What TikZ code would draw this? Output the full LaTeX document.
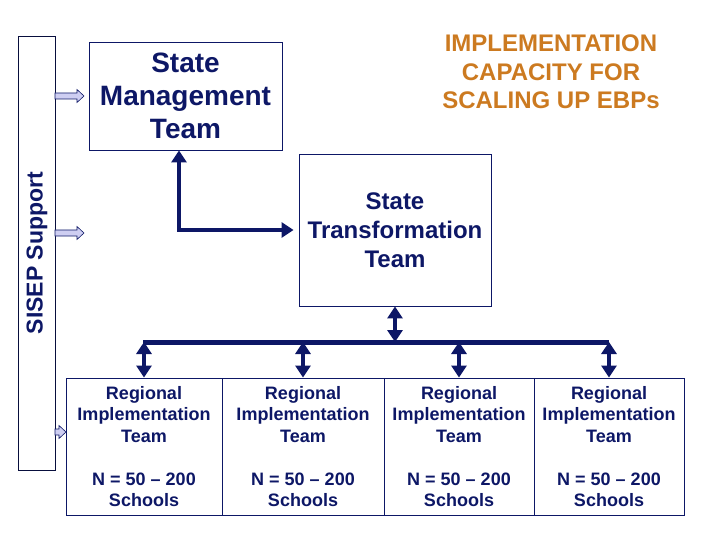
\documentclass[tikz,border=0pt]{standalone}
\usepackage{fontspec}
\setmainfont{Liberation Sans}
\usetikzlibrary{arrows.meta}
\definecolor{navy}{RGB}{13,23,102}
\definecolor{ttl}{RGB}{204,122,32}
\definecolor{lav}{RGB}{206,206,242}
\tikzset{
  box/.style={draw=navy, line width=0.9pt, text=navy, align=center, inner sep=0pt},
  cell/.style={box, minimum width=#1, minimum height=137pt,
    font=\bfseries\fontsize{18}{21.5}\selectfont},
  bigarrow/.style={navy, line width=4.5pt,
    arrows={Triangle[length=12pt,width=15pt]-Triangle[length=12pt,width=15pt]}},
  onearrow/.style={navy, line width=4.5pt, arrows={-Triangle[length=12pt,width=15pt]}},
  lavarrow/.style={fill=lav, draw=navy, line width=0.6pt, line join=miter},
}
\newcommand\lavarr[3]{% y, x0, x1
  \filldraw[lavarrow] (#2,#1-3) -- (#3-7,#1-3) -- (#3-7,#1-6.5) -- (#3,#1)
    -- (#3-7,#1+6.5) -- (#3-7,#1+3) -- (#2,#1+3) -- cycle;}
\begin{document}
\begin{tikzpicture}[x=1pt,y=-1pt]
\useasboundingbox (0,0) rectangle (720,540);
% SISEP support column
\node[draw=navy!60!black, line width=0.9pt, minimum width=37pt, minimum height=434pt, inner sep=0pt] (sisep) at (36.5,253) {};
\node[rotate=90, text=navy, font=\bfseries\fontsize{23}{27}\selectfont] (sisepT) at (37,253) {SISEP Support};
% boxes
\node[box, minimum width=193pt, minimum height=108pt, font=\bfseries\fontsize{28}{33}\selectfont] (smt) at (185.5,96) {State\\Management\\Team};
\node[align=center, text=ttl, font=\bfseries\fontsize{24}{28.5}\selectfont] (title) at (551,72) {IMPLEMENTATION\\CAPACITY FOR\\SCALING UP EBPs};
\node[box, minimum width=192pt, minimum height=152pt, font=\bfseries\fontsize{24}{29}\selectfont] (stt) at (395,230) {State\\Transformation\\Team};
% regional cells
\node[cell=156pt] (c1) at (144,446.5) {Regional\\Implementation\\Team\\[21.5pt]N = 50 – 200\\Schools};
\node[cell=162pt] (c2) at (303,446.5) {Regional\\Implementation\\Team\\[21.5pt]N = 50 – 200\\Schools};
\node[cell=150pt] (c3) at (459,446.5) {Regional\\Implementation\\Team\\[21.5pt]N = 50 – 200\\Schools};
\node[cell=150pt] (c4) at (609,446.5) {Regional\\Implementation\\Team\\[21.5pt]N = 50 – 200\\Schools};
% lavender support arrows
\lavarr{96}{55}{84}
\lavarr{233}{55}{84}
\lavarr{432}{55}{66}
% L arrow between SMT and STT
\coordinate (corner) at (179,230);
\draw[bigarrow] (smt.south -| corner) |- ([xshift=-5pt]stt.west);
% bus
\coordinate (busL) at (143,342);
\coordinate (busR) at (609,342);
\draw[navy, line width=5pt] (busL) -- (busR);
\draw[bigarrow] (stt.south) -- (stt.south |- busL);
\draw[bigarrow] (c1.north |- busL) -- (c1.north);
\draw[bigarrow] (c2.north |- busL) -- (c2.north);
\draw[bigarrow] (c3.north |- busL) -- (c3.north);
\draw[bigarrow] (c4.north |- busL) -- (c4.north);
\end{tikzpicture}
\end{document}
